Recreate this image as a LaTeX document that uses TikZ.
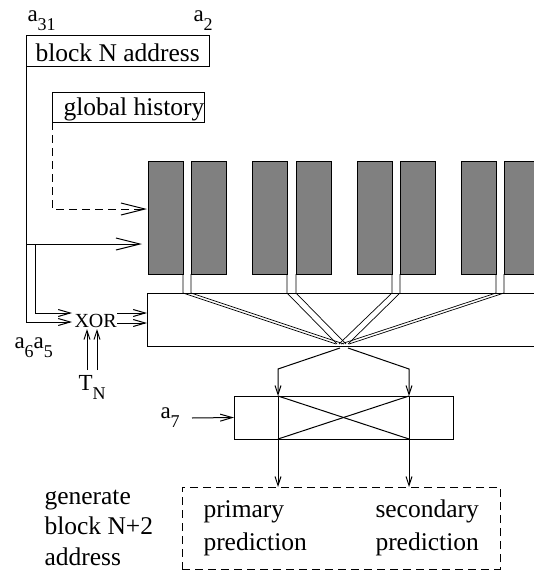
\documentclass[tikz,border=0pt]{standalone}
\usepackage{fontspec}
\setmainfont{Liberation Serif}
\usetikzlibrary{arrows.meta}
\newcommand\sbs[1]{\raisebox{-9pt}{\fontsize{18}{18}\selectfont #1}}
\begin{document}
\begin{tikzpicture}[x=1pt,y=-1pt,line width=1pt,
  box/.style={draw,line width=1pt,inner sep=0pt,outer sep=0pt,anchor=north west},
  shblock/.style={draw,line width=0.9pt,fill=gray,inner sep=0pt,outer sep=0pt,anchor=north west,minimum width=35pt,minimum height=113pt},
  txt/.style={font=\fontsize{25.5}{31}\selectfont,inner sep=0pt,anchor=base west},
  lab/.style={font=\fontsize{23}{23}\selectfont,inner sep=0pt,anchor=base west},
  big/.style={-{Straight Barb[length=24pt,width=12pt]}},
  mid/.style={-{Straight Barb[length=12pt,width=7pt]}},
  sml/.style={-{Straight Barb[length=9pt,width=6pt]}},
  thinl/.style={line width=0.7pt},
  dashbox/.style={draw,dash pattern=on 8pt off 5pt,line width=1pt,inner sep=0pt,outer sep=0pt,anchor=north west}
]
\useasboundingbox (0,0) rectangle (534,573);
\clip (0,0) rectangle (534,573);

% top boxes and labels
\node[lab] (a31) at (27,21) {a\sbs{31}};
\node[lab] (a2) at (193,21) {a\sbs{2}};
\node[box,minimum width=183pt,minimum height=31pt] (bna) at (26,35) {};
\node[txt] (bnat) at (35,61) {block N address};
\node[box,minimum width=152pt,minimum height=30pt] (gh) at (52,92) {};
\node[txt] (ght) at (63,115) {global history};

% shaded blocks
\node[shblock] (b1) at (148,161) {};
\node[shblock] (b2) at (191,161) {};
\node[shblock] (b3) at (252,161) {};
\node[shblock] (b4) at (296,161) {};
\node[shblock] (b5) at (357,161) {};
\node[shblock] (b6) at (400,161) {};
\node[shblock] (b7) at (461,161) {};
\node[shblock] (b8) at (504,161) {};

% wide box
\node[box,minimum width=420pt,minimum height=53pt] (wb) at (147,293) {};

% XOR
\node[font=\fontsize{20}{20}\selectfont,inner sep=0pt,anchor=base west] (xor) at (74,327) {XOR};
\node[lab] (a65) at (14,348) {a\sbs{6}a\sbs{5}};
\node[lab] (tn) at (78,390) {T\sbs{N}};

% coordinates for left connectors
\coordinate (lb) at (26,322);
\coordinate (br) at (26,244);
\coordinate (bri) at (35,244);
\coordinate (bi) at (35,313);
\coordinate (xi1) at (72,313);
\coordinate (xi2) at (72,322);
\coordinate (xo1) at (117,313);
\coordinate (xo2) at (117,323);
\coordinate (wi1) at (147,313);
\coordinate (wi2) at (147,323);
\coordinate (solidtip) at (142,244);
\coordinate (dc) at (52,209);
\coordinate (dashtip) at (147,209);
\coordinate (t1a) at (87,370);
\coordinate (t1b) at (87,329);
\coordinate (t2a) at (97,370);
\coordinate (t2b) at (97,329);

\draw[mid] (bna.south west) -- (lb) -- (xi2);
\draw[big] (br) -- (solidtip);
\draw[mid] (bri) -- (bi) -- (xi1);
\draw[big,dash pattern=on 8pt off 5pt] (gh.south west) -- (dc) -- (dashtip);
\draw[mid] (xo1) -- (wi1);
\draw[mid] (xo2) -- (wi2);
\draw[sml] (t1a) -- (t1b);
\draw[sml] (t2a) -- (t2b);

% converging lines
\coordinate (e1) at (336,344);
\coordinate (e2) at (344,344);
\coordinate (e3) at (337,344);
\coordinate (e4) at (346,344);
\coordinate (e5) at (339,344);
\coordinate (e6) at (348,344);
\coordinate (e7) at (341,344);
\coordinate (e8) at (349,344);
\draw[thinl] (b1.south east) -- (b1.south east |- wb.north) -- (e1);
\draw[thinl] (b2.south west) -- (b2.south west |- wb.north) -- (e2);
\draw[thinl] (b3.south east) -- (b3.south east |- wb.north) -- (e3);
\draw[thinl] (b4.south west) -- (b4.south west |- wb.north) -- (e4);
\draw[thinl] (b5.south east) -- (b5.south east |- wb.north) -- (e5);
\draw[thinl] (b6.south west) -- (b6.south west |- wb.north) -- (e6);
\draw[thinl] (b7.south east) -- (b7.south east |- wb.north) -- (e7);
\draw[thinl] (b8.south west) -- (b8.south west |- wb.north) -- (e8);

% crossbar
\node[box,minimum width=219pt,minimum height=43pt] (xb) at (234,396) {};
\node[dashbox,minimum width=318pt,minimum height=82pt] (pb) at (182,487) {};
\coordinate (sL) at (340,348);
\coordinate (sR) at (348,348);
\coordinate (pl) at (278,369);
\coordinate (pr) at (409,369);
\draw[sml] (sL) -- (pl) -- (pl |- xb.north);
\draw[sml] (sR) -- (pr) -- (pr |- xb.north);
\draw[sml] (pl |- xb.north) -- (pl |- pb.north);
\draw[sml] (pr |- xb.north) -- (pr |- pb.north);
\draw (pl |- xb.north) -- (pr |- xb.south);
\draw (pr |- xb.north) -- (pl |- xb.south);

\node[lab] (a7) at (160,418) {a\sbs{7}};
\coordinate (a7s) at (192,418);
\draw[mid] (a7s) -- (xb.west);

% bottom texts
\node[txt] (p1) at (203,517) {primary};
\node[txt] (p2) at (203,550) {prediction};
\node[txt] (s1) at (375,517) {secondary};
\node[txt] (s2) at (375,550) {prediction};
\node[txt] (g1) at (44,504) {generate};
\node[txt] (g2) at (44,534.5) {block N+2};
\node[txt] (g3) at (44,565) {address};
\end{tikzpicture}
\end{document}
